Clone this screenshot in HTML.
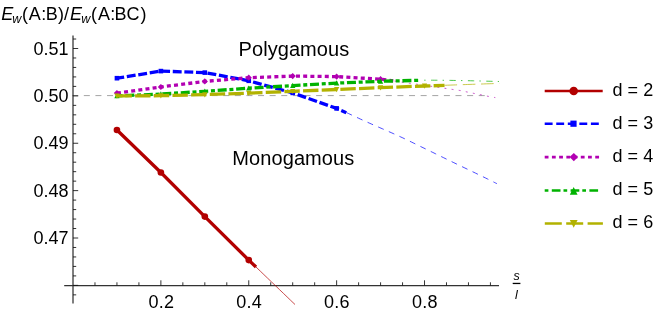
<!DOCTYPE html>
<html><head><meta charset="utf-8"><title>plot</title>
<style>html,body{margin:0;padding:0;background:#fff;}body{width:664px;height:316px;position:relative;overflow:hidden;font-family:"Liberation Sans",sans-serif;}</style>
</head><body>
<svg width="664" height="316" viewBox="0 0 664 316" style="position:absolute;left:0;top:0;will-change:transform">
<rect width="664" height="316" fill="#fff"/>
<path d="M72.2 95.6 H490.4" stroke="#a4a4a4" stroke-width="1" stroke-dasharray="6 5.615" fill="none"/>
<g stroke="#333" stroke-width="1.25" fill="none">
<path d="M73.0 35.5 V303.6"/>
<path d="M64.2 285.5 H499"/>
</g>
<g stroke="#111" stroke-width="0.85" fill="none">
<path d="M73.0 294.85 h3.2"/>
<path d="M73.0 285.37 h5.2"/>
<path d="M73.0 275.90 h3.2"/>
<path d="M73.0 266.42 h3.2"/>
<path d="M73.0 256.95 h3.2"/>
<path d="M73.0 247.47 h3.2"/>
<path d="M73.0 238.00 h5.2"/>
<path d="M73.0 228.52 h3.2"/>
<path d="M73.0 219.05 h3.2"/>
<path d="M73.0 209.57 h3.2"/>
<path d="M73.0 200.10 h3.2"/>
<path d="M73.0 190.62 h5.2"/>
<path d="M73.0 181.15 h3.2"/>
<path d="M73.0 171.67 h3.2"/>
<path d="M73.0 162.20 h3.2"/>
<path d="M73.0 152.73 h3.2"/>
<path d="M73.0 143.25 h5.2"/>
<path d="M73.0 133.78 h3.2"/>
<path d="M73.0 124.30 h3.2"/>
<path d="M73.0 114.83 h3.2"/>
<path d="M73.0 105.35 h3.2"/>
<path d="M73.0 95.88 h5.2"/>
<path d="M73.0 86.40 h3.2"/>
<path d="M73.0 76.92 h3.2"/>
<path d="M73.0 67.45 h3.2"/>
<path d="M73.0 57.97 h3.2"/>
<path d="M73.0 48.50 h5.2"/>
<path d="M73.0 39.02 h3.2"/>
<path d="M94.97 285.5 v-3.2"/>
<path d="M116.94 285.5 v-3.2"/>
<path d="M138.91 285.5 v-3.2"/>
<path d="M160.88 285.5 v-5.2"/>
<path d="M182.85 285.5 v-3.2"/>
<path d="M204.82 285.5 v-3.2"/>
<path d="M226.79 285.5 v-3.2"/>
<path d="M248.76 285.5 v-5.2"/>
<path d="M270.73 285.5 v-3.2"/>
<path d="M292.70 285.5 v-3.2"/>
<path d="M314.67 285.5 v-3.2"/>
<path d="M336.64 285.5 v-5.2"/>
<path d="M358.61 285.5 v-3.2"/>
<path d="M380.58 285.5 v-3.2"/>
<path d="M402.55 285.5 v-3.2"/>
<path d="M424.52 285.5 v-5.2"/>
<path d="M446.49 285.5 v-3.2"/>
<path d="M468.46 285.5 v-3.2"/>
<path d="M490.43 285.5 v-3.2"/>
</g>
<path d="M256.00 267.00 L258.01 268.93 L260.69 271.51 L263.92 274.62 L267.56 278.11 L271.46 281.87 L275.50 285.75 L279.54 289.63 L283.44 293.39 L287.08 296.88 L290.31 299.99 L292.99 302.57 L295.00 304.50" stroke="#b20000" stroke-width="0.7" fill="none"/>
<path d="M116.94 130.00 L160.88 172.50 L204.82 216.60 L248.76 260.10 L256.00 267.00" stroke="#b20000" stroke-width="3.3" stroke-linejoin="round" fill="none"/>
<circle cx="116.94" cy="130.00" r="3.3" fill="#b20000"/>
<circle cx="160.88" cy="172.50" r="3.3" fill="#b20000"/>
<circle cx="204.82" cy="216.60" r="3.3" fill="#b20000"/>
<circle cx="248.76" cy="260.10" r="3.3" fill="#b20000"/>
<path d="M346.50 112.60 L347.45 113.04 L348.59 113.57 L349.90 114.18 L351.37 114.87 L352.98 115.62 L354.71 116.42 L356.56 117.28 L358.50 118.18 L360.52 119.11 L362.60 120.06 L364.74 121.03 L366.90 122.00 L369.18 123.02 L371.65 124.11 L374.28 125.26 L377.01 126.45 L379.83 127.68 L382.69 128.92 L385.56 130.17 L388.40 131.41 L391.16 132.63 L393.83 133.81 L396.35 134.94 L398.70 136.00 L400.85 136.99 L402.85 137.91 L404.71 138.79 L406.48 139.63 L408.18 140.45 L409.84 141.25 L411.49 142.06 L413.18 142.88 L414.92 143.73 L416.75 144.63 L418.70 145.58 L420.80 146.60 L423.04 147.69 L425.38 148.82 L427.80 150.00 L430.30 151.22 L432.85 152.46 L435.45 153.73 L438.08 155.01 L440.72 156.30 L443.37 157.59 L446.01 158.88 L448.62 160.15 L451.20 161.40 L453.81 162.66 L456.51 163.96 L459.26 165.29 L462.06 166.64 L464.85 167.98 L467.62 169.31 L470.33 170.62 L472.97 171.89 L475.49 173.10 L477.87 174.25 L480.08 175.32 L482.10 176.30 L483.95 177.20 L485.68 178.05 L487.30 178.85 L488.80 179.60 L490.20 180.29 L491.48 180.93 L492.66 181.52 L493.73 182.06 L494.70 182.55 L495.56 182.98 L496.33 183.37 L497.00 183.70" stroke="#0000ff" stroke-width="0.7" stroke-dasharray="6 5.6" stroke-dashoffset="0" fill="none"/>
<path d="M116.94 78.20 L160.88 71.10 L204.82 72.60 L248.76 80.80 L292.70 92.90 L336.64 108.40 L346.30 112.70" stroke="#0000ff" stroke-width="3.3" stroke-dasharray="8.9 2.7" stroke-dashoffset="1.6" stroke-linejoin="round" fill="none"/>
<rect x="114.64" y="75.90" width="4.6" height="4.6" fill="#0000ff"/>
<rect x="158.58" y="68.80" width="4.6" height="4.6" fill="#0000ff"/>
<rect x="202.52" y="70.30" width="4.6" height="4.6" fill="#0000ff"/>
<rect x="246.46" y="78.50" width="4.6" height="4.6" fill="#0000ff"/>
<rect x="290.40" y="90.60" width="4.6" height="4.6" fill="#0000ff"/>
<rect x="334.34" y="106.10" width="4.6" height="4.6" fill="#0000ff"/>
<path d="M393.30 80.90 L393.70 80.96 L394.18 81.03 L394.73 81.12 L395.34 81.21 L396.01 81.31 L396.74 81.43 L397.52 81.54 L398.35 81.67 L399.21 81.80 L400.11 81.93 L401.04 82.06 L402.00 82.20 L402.98 82.34 L404.00 82.48 L405.05 82.62 L406.14 82.77 L407.27 82.93 L408.44 83.09 L409.65 83.25 L410.92 83.43 L412.23 83.61 L413.60 83.79 L415.02 83.99 L416.50 84.20 L418.08 84.42 L419.79 84.66 L421.60 84.92 L423.48 85.19 L425.42 85.46 L427.38 85.74 L429.33 86.02 L431.26 86.30 L433.14 86.57 L434.94 86.83 L436.63 87.07 L438.20 87.30 L439.66 87.51 L441.07 87.72 L442.42 87.92 L443.72 88.11 L444.97 88.30 L446.16 88.48 L447.31 88.65 L448.40 88.82 L449.45 88.98 L450.44 89.13 L451.39 89.27 L452.30 89.40 L453.14 89.52 L453.89 89.63 L454.57 89.72 L455.19 89.80 L455.75 89.87 L456.29 89.94 L456.80 90.01 L457.29 90.07 L457.79 90.14 L458.30 90.22 L458.83 90.30 L459.40 90.40 L459.99 90.50 L460.58 90.61 L461.17 90.73 L461.76 90.85 L462.34 90.97 L462.93 91.09 L463.52 91.22 L464.11 91.34 L464.70 91.47 L465.30 91.60 L465.90 91.72 L466.50 91.85 L467.11 91.98 L467.72 92.11 L468.34 92.24 L468.97 92.37 L469.59 92.50 L470.22 92.63 L470.84 92.77 L471.47 92.90 L472.09 93.03 L472.70 93.15 L473.30 93.28 L473.90 93.40 L474.49 93.52 L475.06 93.63 L475.63 93.74 L476.19 93.84 L476.75 93.94 L477.31 94.05 L477.86 94.15 L478.42 94.25 L478.98 94.36 L479.54 94.47 L480.12 94.58 L480.70 94.70 L481.29 94.82 L481.89 94.95 L482.49 95.09 L483.10 95.22 L483.71 95.36 L484.32 95.50 L484.93 95.64 L485.55 95.78 L486.16 95.91 L486.78 96.05 L487.39 96.18 L488.00 96.30 L488.63 96.42 L489.30 96.55 L490.00 96.68 L490.70 96.80 L491.41 96.93 L492.11 97.05 L492.78 97.17 L493.41 97.27 L493.99 97.37 L494.51 97.46 L494.95 97.54 L495.30 97.60" stroke="#b200b2" stroke-width="0.7" stroke-dasharray="1.9 5.3" stroke-dashoffset="5.9" fill="none"/>
<path d="M116.94 93.10 L160.88 87.00 L204.82 81.40 L248.76 77.70 L292.70 76.10 L336.64 76.60 L380.58 79.20 L393.30 80.90" stroke="#b200b2" stroke-width="3.3" stroke-dasharray="4 3.2" stroke-dashoffset="0" stroke-linejoin="round" fill="none"/>
<path d="M113.84 93.10 L116.94 90.00 L120.04 93.10 L116.94 96.20Z" fill="#b200b2"/>
<path d="M157.78 87.00 L160.88 83.90 L163.98 87.00 L160.88 90.10Z" fill="#b200b2"/>
<path d="M201.72 81.40 L204.82 78.30 L207.92 81.40 L204.82 84.50Z" fill="#b200b2"/>
<path d="M245.66 77.70 L248.76 74.60 L251.86 77.70 L248.76 80.80Z" fill="#b200b2"/>
<path d="M289.60 76.10 L292.70 73.00 L295.80 76.10 L292.70 79.20Z" fill="#b200b2"/>
<path d="M333.54 76.60 L336.64 73.50 L339.74 76.60 L336.64 79.70Z" fill="#b200b2"/>
<path d="M377.48 79.20 L380.58 76.10 L383.68 79.20 L380.58 82.30Z" fill="#b200b2"/>
<path d="M420.90 80.20 L421.79 80.20 L422.88 80.20 L424.12 80.20 L425.52 80.20 L427.05 80.20 L428.70 80.20 L430.44 80.20 L432.27 80.20 L434.15 80.21 L436.08 80.22 L438.04 80.23 L440.00 80.25 L442.01 80.27 L444.12 80.30 L446.30 80.33 L448.56 80.36 L450.88 80.39 L453.26 80.43 L455.67 80.47 L458.11 80.51 L460.58 80.55 L463.06 80.60 L465.53 80.65 L468.00 80.70 L470.58 80.76 L473.35 80.82 L476.27 80.89 L479.26 80.97 L482.27 81.05 L485.25 81.13 L488.13 81.21 L490.85 81.28 L493.36 81.35 L495.59 81.41 L497.49 81.46 L499.00 81.50" stroke="#00b200" stroke-width="0.7" stroke-dasharray="1.4 5.5 6.3 5.2" stroke-dashoffset="15.1" fill="none"/>
<path d="M116.94 95.90 L160.88 94.10 L204.82 91.30 L248.76 88.20 L292.70 85.60 L336.64 83.10 L380.58 81.30 L420.90 80.25" stroke="#00b200" stroke-width="3.3" stroke-dasharray="9 2.75 4 2.75" stroke-dashoffset="10.1" stroke-linejoin="round" fill="none"/>
<path d="M114.34 98.30 L116.94 93.10 L119.54 98.30Z" fill="#00b200"/>
<path d="M158.28 96.50 L160.88 91.30 L163.48 96.50Z" fill="#00b200"/>
<path d="M202.22 93.70 L204.82 88.50 L207.42 93.70Z" fill="#00b200"/>
<path d="M246.16 90.60 L248.76 85.40 L251.36 90.60Z" fill="#00b200"/>
<path d="M290.10 88.00 L292.70 82.80 L295.30 88.00Z" fill="#00b200"/>
<path d="M334.04 85.50 L336.64 80.30 L339.24 85.50Z" fill="#00b200"/>
<path d="M377.98 83.70 L380.58 78.50 L383.18 83.70Z" fill="#00b200"/>
<path d="M444.50 85.30 L445.72 85.26 L447.23 85.20 L448.99 85.14 L450.96 85.07 L453.11 84.99 L455.41 84.91 L457.80 84.83 L460.26 84.74 L462.75 84.65 L465.22 84.57 L467.65 84.48 L470.00 84.40 L472.41 84.32 L475.03 84.23 L477.79 84.13 L480.63 84.04 L483.50 83.94 L486.34 83.84 L489.10 83.75 L491.70 83.66 L494.11 83.58 L496.24 83.51 L498.06 83.45 L499.50 83.40" stroke="#b2b200" stroke-width="0.7" stroke-dasharray="12.6 5.7" stroke-dashoffset="0" fill="none"/>
<path d="M116.94 95.90 L160.88 95.70 L204.82 94.60 L248.76 93.20 L292.70 91.30 L336.64 89.50 L380.58 87.60 L424.52 86.00 L444.50 85.40" stroke="#b2b200" stroke-width="3.3" stroke-dasharray="15.4 3.27" stroke-dashoffset="0.5" stroke-linejoin="round" fill="none"/>
<path d="M114.34 93.50 L116.94 98.70 L119.54 93.50Z" fill="#b2b200"/>
<path d="M158.28 93.30 L160.88 98.50 L163.48 93.30Z" fill="#b2b200"/>
<path d="M202.22 92.20 L204.82 97.40 L207.42 92.20Z" fill="#b2b200"/>
<path d="M246.16 90.80 L248.76 96.00 L251.36 90.80Z" fill="#b2b200"/>
<path d="M290.10 88.90 L292.70 94.10 L295.30 88.90Z" fill="#b2b200"/>
<path d="M334.04 87.10 L336.64 92.30 L339.24 87.10Z" fill="#b2b200"/>
<path d="M377.98 85.20 L380.58 90.40 L383.18 85.20Z" fill="#b2b200"/>
<path d="M421.92 83.60 L424.52 88.80 L427.12 83.60Z" fill="#b2b200"/>
<path d="M544.7 91 H602.7" stroke="#b20000" stroke-width="2.6" fill="none"/>
<circle cx="573.70" cy="91.00" r="4.3" fill="#b20000"/>
<path d="M544.7 123.7 H599.3" stroke="#0000ff" stroke-width="2.6" stroke-dasharray="7.9 3.65" fill="none"/>
<rect x="570.40" y="120.60" width="6.2" height="6.2" fill="#0000ff"/>
<path d="M544.7 157.1 H599.3" stroke="#b200b2" stroke-width="2.6" stroke-dasharray="3.8 3.42" fill="none"/>
<path d="M569.60 157.10 L573.80 152.90 L578.00 157.10 L573.80 161.30Z" fill="#b200b2"/>
<path d="M544.7 190.5 H598.2" stroke="#00b200" stroke-width="2.6" stroke-dasharray="3.7 3.4 8.7 3" fill="none"/>
<path d="M569.80 194.70 L573.70 186.90 L577.60 194.70Z" fill="#00b200"/>
<path d="M544.8 223.5 H602.9" stroke="#b2b200" stroke-width="2.6" stroke-dasharray="17 4.4" fill="none"/>
<path d="M569.80 219.90 L573.70 227.70 L577.60 219.90Z" fill="#b2b200"/>
<g font-family="Liberation Sans, sans-serif" fill="#000">
<text x="612.5" y="96.3" font-size="18" letter-spacing="0.05" id="leg0">d = 2</text>
<text x="612.5" y="129.0" font-size="18" letter-spacing="0.05" id="leg1">d = 3</text>
<text x="612.5" y="162.2" font-size="18" letter-spacing="0.05" id="leg2">d = 4</text>
<text x="612.5" y="195.3" font-size="18" letter-spacing="0.05" id="leg3">d = 5</text>
<text x="612.5" y="228.4" font-size="18" letter-spacing="0.05" id="leg4">d = 6</text>
<text x="33.6" y="244.0" font-size="18" letter-spacing="0" class="yt">0.47</text>
<text x="33.6" y="196.6" font-size="18" letter-spacing="0" class="yt">0.48</text>
<text x="33.6" y="149.3" font-size="18" letter-spacing="0" class="yt">0.49</text>
<text x="33.6" y="101.9" font-size="18" letter-spacing="0" class="yt">0.50</text>
<text x="33.6" y="54.5" font-size="18" letter-spacing="0" class="yt">0.51</text>
<text x="148.4" y="308.1" font-size="18" letter-spacing="0.25" class="xt">0.2</text>
<text x="236.3" y="308.1" font-size="18" letter-spacing="0.25" class="xt">0.4</text>
<text x="324.1" y="308.1" font-size="18" letter-spacing="0.25" class="xt">0.6</text>
<text x="412.0" y="308.1" font-size="18" letter-spacing="0.25" class="xt">0.8</text>
<text x="238.6" y="55.8" font-size="20" letter-spacing="0.06" id="poly">Polygamous</text>
<text x="232.3" y="164.8" font-size="20" letter-spacing="0.09" id="mono">Monogamous</text>
<text x="1.35" y="20.2" font-size="18" font-style="italic" class="tt">E</text>
<text x="12.27" y="22.8" font-size="12.6" font-style="italic" class="tt">w</text>
<text x="22.08" y="20.2" font-size="18" class="tt">(</text>
<text x="28.66" y="20.2" font-size="18" class="tt">A</text>
<text x="41.26" y="20.2" font-size="18" class="tt">:</text>
<text x="45.82" y="20.2" font-size="18" class="tt">B</text>
<text x="57.89" y="20.2" font-size="18" class="tt">)</text>
<text x="64.00" y="20.2" font-size="18" class="tt">/</text>
<text x="69.95" y="20.2" font-size="18" font-style="italic" class="tt">E</text>
<text x="81.27" y="22.8" font-size="12.6" font-style="italic" class="tt">w</text>
<text x="91.08" y="20.2" font-size="18" class="tt">(</text>
<text x="97.96" y="20.2" font-size="18" class="tt">A</text>
<text x="110.16" y="20.2" font-size="18" class="tt">:</text>
<text x="114.52" y="20.2" font-size="18" class="tt">B</text>
<text x="126.59" y="20.2" font-size="18" class="tt">C</text>
<text x="140.49" y="20.2" font-size="18" class="tt">)</text>
<text x="516.6" y="279.7" font-size="12.5" font-style="italic" text-anchor="middle" id="fs">s</text>
<text x="516.3" y="299.4" font-size="12.5" font-style="italic" text-anchor="middle" id="fl">l</text>
</g>
<path d="M512.7 283.45 H520.4" stroke="#000" stroke-width="1.3" fill="none"/>
</svg>
</body></html>
